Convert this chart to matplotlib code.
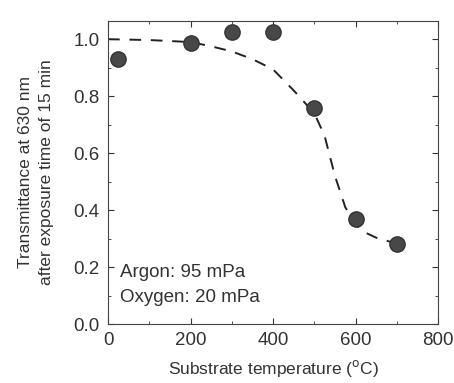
import numpy as np
import matplotlib.pyplot as plt

plt.rcParams['font.family'] = ['Liberation Sans', 'DejaVu Sans']

# measured points
temp = [25, 200, 300, 400, 500, 600, 700]
trans = [0.93, 0.985, 1.027, 1.027, 0.76, 0.369, 0.282]

# dashed guide curve
fit_x = [0, 100, 200, 250, 300, 350, 400, 450, 500, 525, 550, 575, 600, 625, 650, 700]
fit_y = [1.0, 0.997, 0.99, 0.975, 0.957, 0.93, 0.894, 0.82, 0.74, 0.66, 0.52, 0.41, 0.35, 0.32, 0.303, 0.282]

fig = plt.figure(figsize=(4.54, 3.83), dpi=100)
ax = fig.add_axes([0.238, 0.154, 0.727, 0.792])

ax.plot(fit_x, fit_y, color='#222222', linestyle=(0, (6, 5)), linewidth=1.4)
ax.plot(temp, trans, 'o', color='#484848', markersize=11, markeredgecolor='#333333')

ax.text(30, 0.18, 'Argon: 95 mPa', fontsize=13.5, va='center', color='#333333')
ax.text(30, 0.093, 'Oxygen: 20 mPa', fontsize=13.5, va='center', color='#333333')

ax.set_xlim(0, 800)
ax.set_ylim(0, 1.065)
ax.set_xticks([0, 200, 400, 600, 800])
ax.set_yticks([0.0, 0.2, 0.4, 0.6, 0.8, 1.0])
ax.set_yticklabels(['0.0', '0.2', '0.4', '0.6', '0.8', '1.0'])
ax.set_xticks([100, 300, 500, 700], minor=True)
ax.set_yticks([0.1, 0.3, 0.5, 0.7, 0.9], minor=True)
ax.tick_params(which='both', direction='in', top=True, right=True, labelsize=13.5, colors='#333333')
ax.tick_params(which='major', length=4, pad=6)
ax.tick_params(which='minor', length=2)
for s in ax.spines.values():
    s.set_color('#444444')

ax.set_xlabel('Substrate temperature ($^{\\rm o}$C)', fontsize=12.5, color='#333333', labelpad=6)
ax.set_ylabel('Transmittance at 630 nm\nafter exposure time of 15 min', fontsize=12.5,
              color='#333333', labelpad=14, linespacing=1.5)

fig.savefig('out.png', dpi=100)
